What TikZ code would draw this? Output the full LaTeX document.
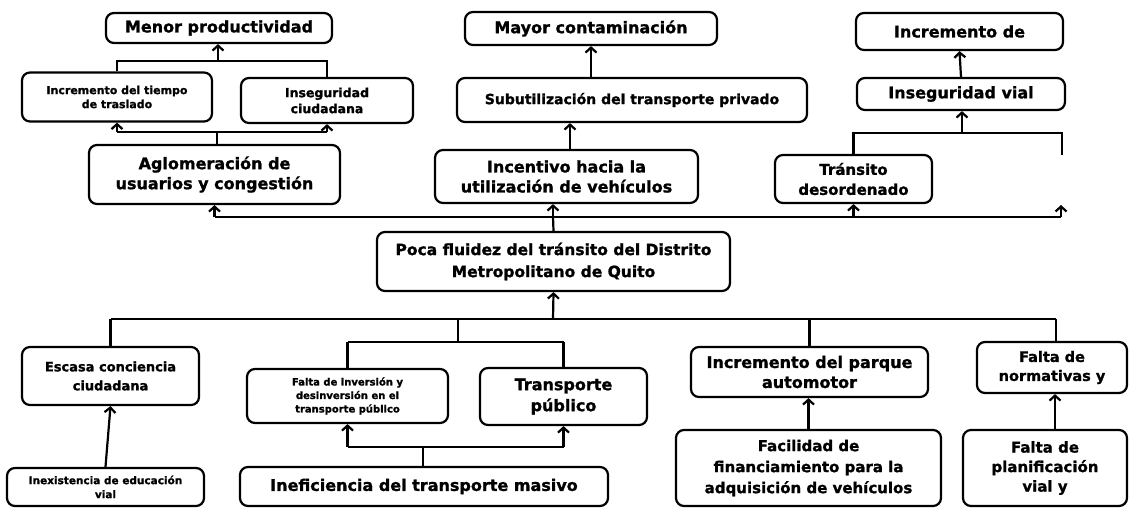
\documentclass[tikz,border=0pt]{standalone}
\usepackage{fontspec}
\setmainfont{DejaVu Sans}[BoldFeatures={FakeBold=1.2}]
\usetikzlibrary{arrows.meta}
\newcommand{\fsz}[2]{\fontsize{#1}{#2}\selectfont\bfseries}
\begin{document}
\begin{tikzpicture}[x=1pt,y=-1pt,
  box/.style={draw, rounded corners=8pt, line width=2.2pt, align=center, inner sep=1pt},
  conn/.style={line width=2.2pt},
  arr/.style={conn, -{Straight Barb[length=5pt,width=11pt]}}]
\useasboundingbox (0,0) rectangle (1129,508);
% effects
\node[box, minimum width=226pt, minimum height=30pt, font=\fsz{16}{19}] (menor) at (219,28) {Menor productividad};
\node[box, minimum width=190pt, minimum height=49pt, font=\fsz{11}{14}] (tiempo) at (117,97) {Incremento del tiempo\\de traslado};
\node[box, minimum width=172pt, minimum height=45pt, font=\fsz{12.5}{16}] (insegc) at (327,100.5) {Inseguridad\\ciudadana};
\node[box, minimum width=251pt, minimum height=59pt, font=\fsz{16}{20}] (aglo) at (214.5,174.5) {Aglomeración de\\usuarios y congestión};
\node[box, minimum width=252pt, minimum height=33pt, font=\fsz{16}{19}] (mayor) at (591,28.5) {Mayor contaminación};
\node[box, minimum width=350pt, minimum height=44pt, font=\fsz{14}{17}] (subut) at (632,100) {Subutilización del transporte privado};
\node[box, minimum width=263pt, minimum height=53pt, font=\fsz{16}{20}] (incent) at (566.5,176.5) {Incentivo hacia la\\utilización de vehículos};
\node[box, minimum width=207pt, minimum height=37pt, font=\fsz{16}{19}] (incrde) at (959.5,31.5) {Incremento de};
\node[box, minimum width=208pt, minimum height=32pt, font=\fsz{16}{19}] (insvial) at (961,94) {Inseguridad vial};
\node[box, minimum width=157pt, minimum height=48pt, font=\fsz{15}{20}] (transito) at (853.5,179) {Tránsito\\desordenado};
% core
\node[box, minimum width=353pt, minimum height=59pt, font=\fsz{15.5}{22}] (poca) at (553.5,261.5) {Poca fluidez del tránsito del Distrito\\Metropolitano de Quito};
% causes
\node[box, minimum width=177pt, minimum height=58pt, font=\fsz{13}{19}] (escasa) at (110.5,376) {Escasa conciencia\\ciudadana};
\node[box, minimum width=197pt, minimum height=38pt, font=\fsz{10.5}{14}] (inex) at (105.5,487) {Inexistencia de educación\\vial};
\node[box, minimum width=201pt, minimum height=54pt, font=\fsz{10}{13.5}] (faltainv) at (347.5,396) {Falta de inversión y\\desinversión en el\\transporte público};
\node[box, minimum width=167pt, minimum height=57pt, font=\fsz{16}{21}] (transp) at (563.5,396.5) {Transporte\\público};
\node[box, minimum width=368pt, minimum height=39pt, font=\fsz{16}{19}] (inef) at (424,486.5) {Ineficiencia del transporte masivo};
\node[box, minimum width=237pt, minimum height=50pt, font=\fsz{16}{20}] (parque) at (809.5,372) {Incremento del parque\\automotor};
\node[box, minimum width=265pt, minimum height=76pt, font=\fsz{15}{21}] (facil) at (808.5,468) {Facilidad de\\financiamiento para la\\adquisición de vehículos};
\node[box, minimum width=150pt, minimum height=51pt, font=\fsz{14.5}{19}] (normat) at (1052,367.5) {Falta de\\normativas y};
\node[box, minimum width=164pt, minimum height=76pt, font=\fsz{15}{19.5}] (planif) at (1045,468) {Falta de\\planificación\\vial y};
% junction coordinates
\coordinate (jE) at (553,217);
\coordinate (eR) at (1061,217);
\coordinate (eRtop) at (1061,205);
\coordinate (jV) at (962,133);
\coordinate (vR) at (1062,133);
\coordinate (vRend) at (1062,155);
\coordinate (jA) at (217,132);
\coordinate (jM) at (218,61);
\coordinate (xI) at (570,0);
\coordinate (jC) at (553,319);
\coordinate (cN) at (1056,319);
\coordinate (jT) at (458,342);
\coordinate (jI) at (423,447);
\coordinate (xP) at (1055,0);
% effects connectors
\draw[conn] (poca.north) -- (jE);
\draw[conn] (aglo.south |- jE) -- (eR);
\draw[arr] (aglo.south |- jE) -- (aglo.south);
\draw[arr] (jE) -- (jE |- incent.south);
\draw[arr] (transito.south |- jE) -- (transito.south);
\draw[arr] (eR) -- (eRtop);
\draw[conn] (transito.north) -- (transito.north |- jV) -- (vR) -- (vRend);
\draw[arr] (jV) -- (jV |- insvial.south);
\draw[arr] (insvial.north) -- (incrde.south);
\draw[conn] (jA |- aglo.north) -- (jA);
\draw[conn] (tiempo.south |- jA) -- (insegc.south |- jA);
\draw[arr] (tiempo.south |- jA) -- (tiempo.south);
\draw[arr] (insegc.south |- jA) -- (insegc.south);
\draw[conn] (tiempo.north) -- (tiempo.north |- jM) -- (insegc.north |- jM) -- (insegc.north);
\draw[arr] (jM) -- (jM |- menor.south);
\draw[arr] (xI |- incent.north) -- (xI |- subut.south);
\draw[arr] (mayor.south |- subut.north) -- (mayor.south);
% causes connectors
\draw[arr] (jC) -- (poca.south);
\draw[conn] (escasa.north |- jC) -- (cN);
\draw[conn] (escasa.north |- jC) -- (escasa.north);
\draw[conn] (parque.north |- jC) -- (parque.north);
\draw[conn] (cN) -- (cN |- normat.north);
\draw[conn] (jT |- jC) -- (jT);
\draw[conn] (faltainv.north |- jT) -- (transp.north |- jT);
\draw[conn] (faltainv.north |- jT) -- (faltainv.north);
\draw[conn] (transp.north |- jT) -- (transp.north);
\draw[arr] (inex.north) -- (escasa.south);
\draw[conn] (jI |- inef.north) -- (jI);
\draw[conn] (faltainv.south |- jI) -- (transp.south |- jI);
\draw[arr] (faltainv.south |- jI) -- (faltainv.south);
\draw[arr] (transp.south |- jI) -- (transp.south);
\draw[arr] (facil.north) -- (facil.north |- parque.south);
\draw[arr] (xP |- planif.north) -- (xP |- normat.south);
\end{tikzpicture}
\end{document}
